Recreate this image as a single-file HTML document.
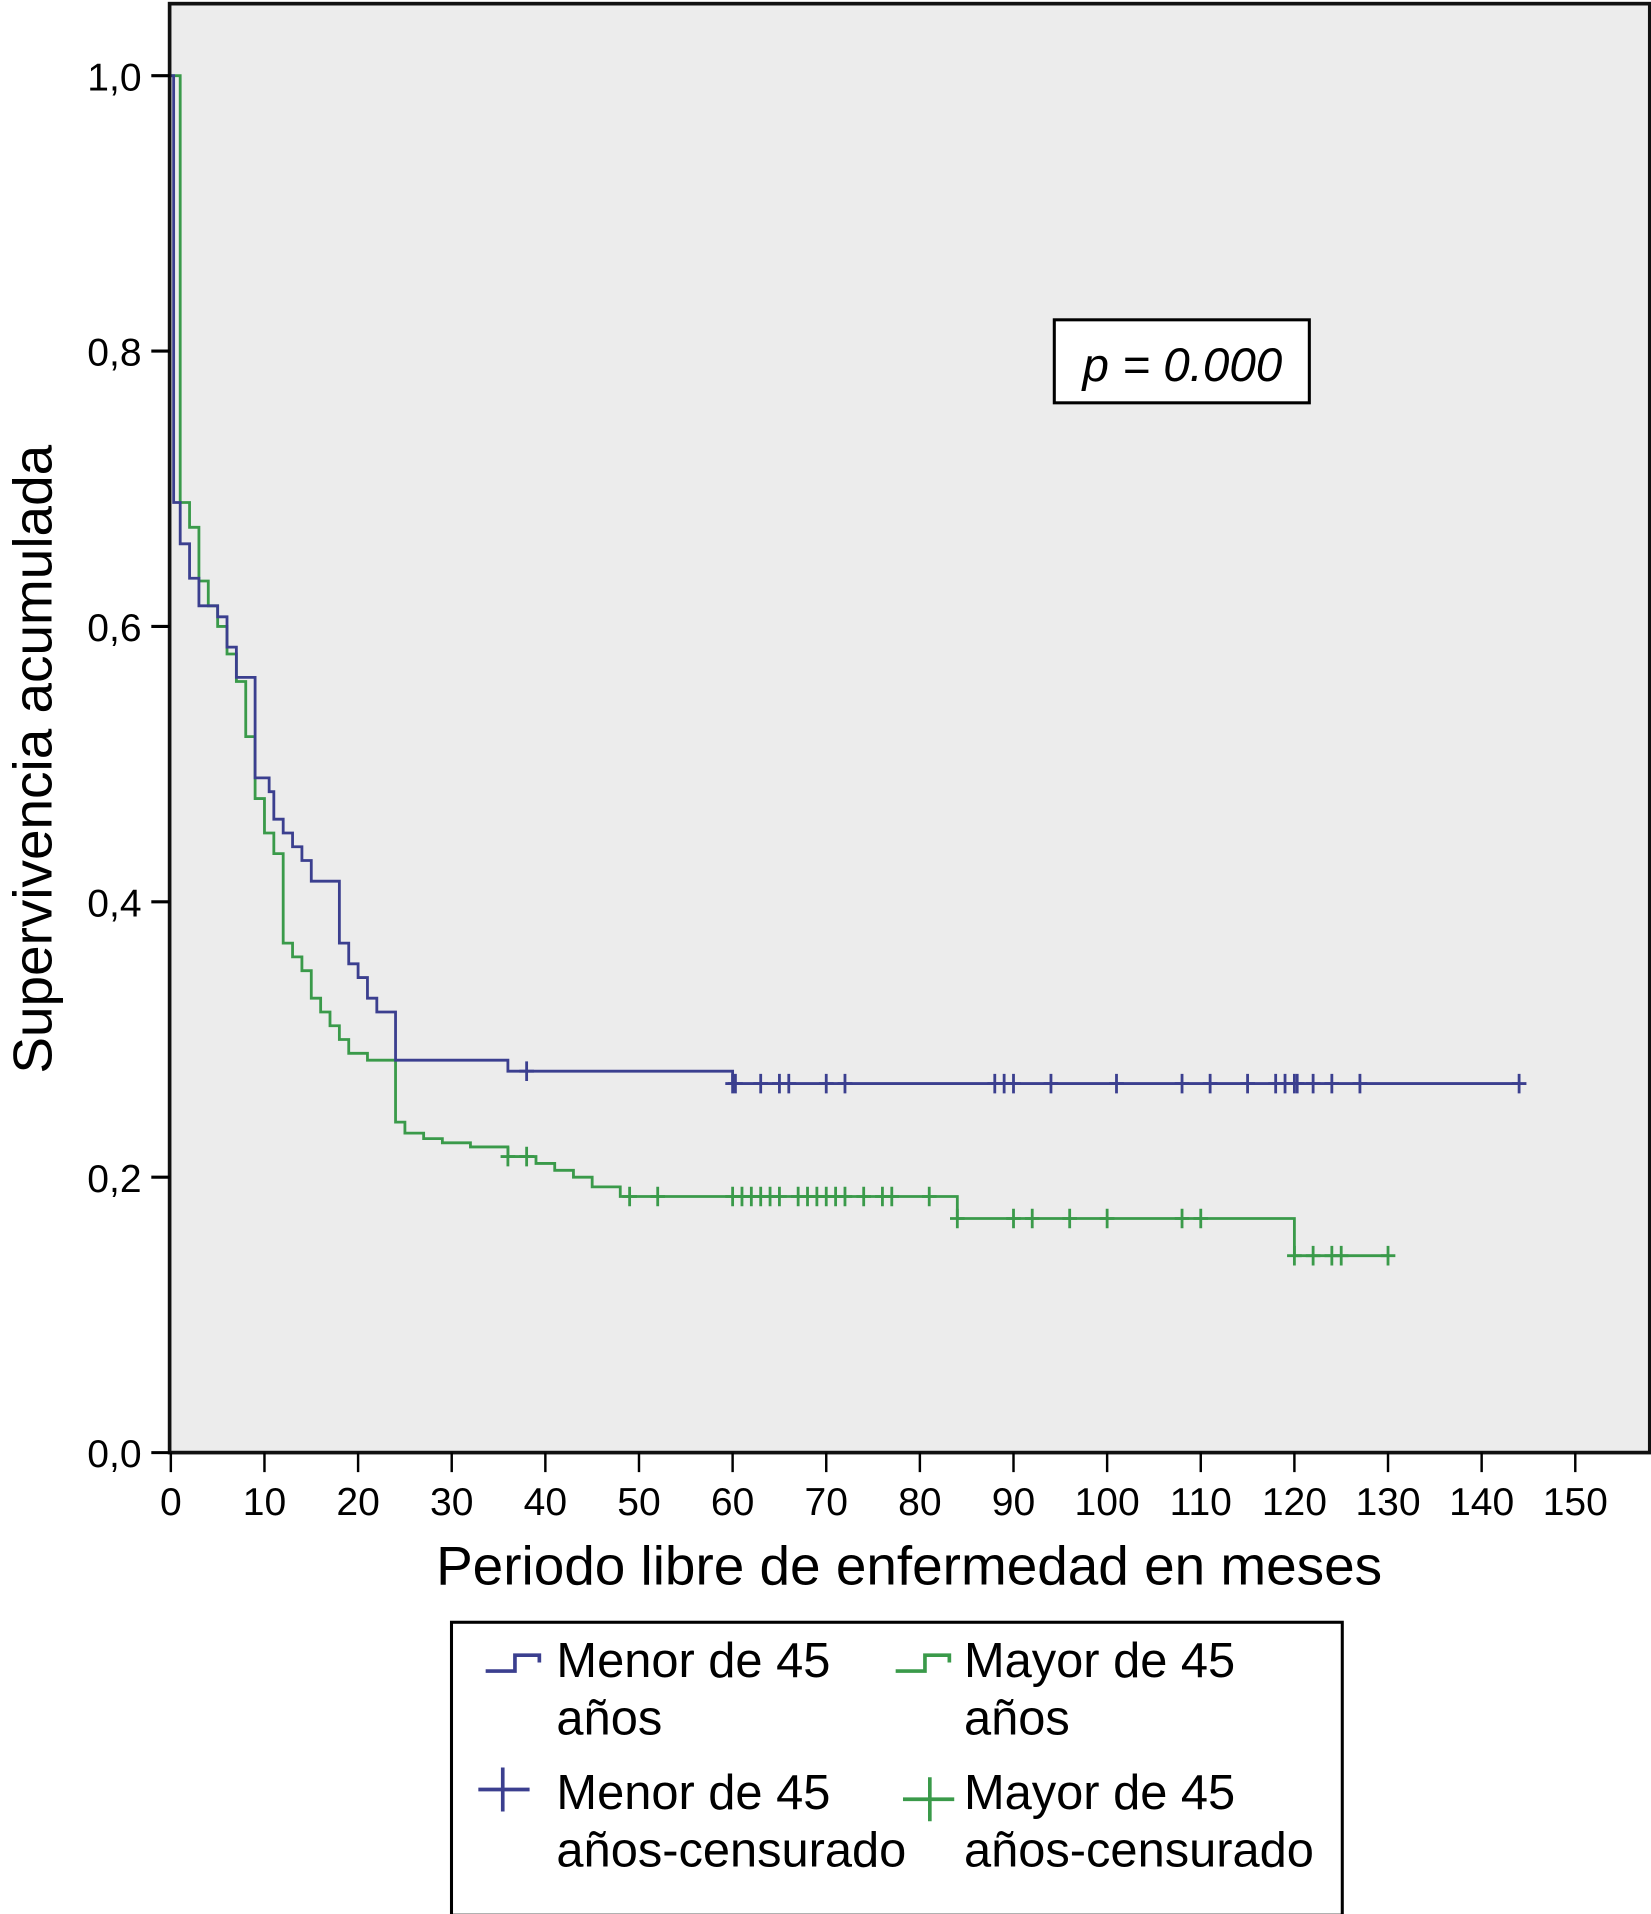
<!DOCTYPE html>
<html><head><meta charset="utf-8"><style>
html,body{margin:0;padding:0;background:#fff;}
svg{display:block;}
text{font-family:"Liberation Sans",sans-serif;fill:#000;}
</style></head><body>
<svg id="chart" width="1651" height="1914" viewBox="0 0 1353 1568" preserveAspectRatio="none" xmlns="http://www.w3.org/2000/svg">
<rect x="139" y="3" width="1213" height="1187" fill="#ececec"/>
<g id="series"></g>
<rect x="139" y="3" width="1213" height="1187" fill="none" stroke="#111" stroke-width="3"/>
<g id="axes"></g>
<g>
<rect x="864" y="262" width="209" height="68" fill="#fff" stroke="#000" stroke-width="2.5"/>
<text x="969" y="312" font-size="39" font-style="italic" text-anchor="middle">p = 0.000</text>
</g>
<text x="745" y="1298" font-size="45" text-anchor="middle">Periodo libre de enfermedad en meses</text>
<text transform="translate(42,622) rotate(-90)" font-size="45" text-anchor="middle">Supervivencia acumulada</text>
<g>
<rect x="370" y="1329" width="730" height="240" fill="#fff" stroke="#000" stroke-width="2.5"/>
<path d="M398 1369 H422 V1356 H442 V1362" fill="none" stroke="#3b3f8f" stroke-width="3"/>
<text x="456" y="1374" font-size="40">Menor de 45</text><text x="456" y="1421" font-size="40">años</text>
<path d="M734 1369 H758 V1356 H778 V1362" fill="none" stroke="#3a9a4a" stroke-width="3"/>
<text x="790" y="1374" font-size="40">Mayor de 45</text><text x="790" y="1421" font-size="40">años</text>
<path d="M392 1466 H434 M412 1448 V1484" stroke="#3b3f8f" stroke-width="3"/>
<text x="456" y="1482" font-size="40">Menor de 45</text><text x="456" y="1529" font-size="40">años-censurado</text>
<path d="M740 1474 H782 M762 1456 V1492" stroke="#3a9a4a" stroke-width="3"/>
<text x="790" y="1482" font-size="40">Mayor de 45</text><text x="790" y="1529" font-size="40">años-censurado</text>
</g>
</svg>
<script>
const xTicks=[0,10,20,30,40,50,60,70,80,90,100,110,120,130,140,150];
const yTicks=[0,0.2,0.4,0.6,0.8,1.0];
const yTickLabels=["0,0","0,2","0,4","0,6","0,8","1,0"];
const menorTimes=[0,0.3,1,2,3,5,6,7,9,10.5,11,12,13,14,15,18,19,20,21,22,24,36,60,144];
const menorSurv=[1.0,0.69,0.66,0.635,0.615,0.607,0.585,0.563,0.49,0.48,0.46,0.45,0.44,0.43,0.415,0.37,0.355,0.345,0.33,0.32,0.285,0.277,0.268,0.268];
const menorCensor=[38,60,60.3,63,65,66,70,72,88,89,90,94,101,108,111,115,118,119,120,120.3,122,124,127,144];
const mayorTimes=[0,1,2,3,4,5,6,7,8,9,10,11,12,13,14,15,16,17,18,19,21,24,25,27,29,32,36,39,41,43,45,48,84,120,130];
const mayorSurv=[1.0,0.69,0.672,0.633,0.615,0.60,0.58,0.56,0.52,0.475,0.45,0.435,0.37,0.36,0.35,0.33,0.32,0.31,0.30,0.29,0.285,0.24,0.232,0.228,0.225,0.222,0.215,0.21,0.205,0.2,0.193,0.186,0.17,0.143,0.143];
const mayorCensor=[36,38,49,52,60,61,62,63,64,65,67,68,69,70,71,72,74,76,77,81,84,90,92,96,100,108,110,120,122,124,125,130];
const X=t=>140+t*7.673, Y=v=>1190-v*1128;
const NS="http://www.w3.org/2000/svg";
function mk(tag,attrs,parent){const e=document.createElementNS(NS,tag);for(const k in attrs)e.setAttribute(k,attrs[k]);parent.appendChild(e);return e;}
function survAt(ts,ss,t){let v=ss[0];for(let i=0;i<ts.length;i++){if(ts[i]<=t)v=ss[i];}return v;}
const series=document.getElementById('series');
function drawSeries(ts,ss,cs,color,name){
  let d="M"+X(ts[0])+" "+Y(ss[0]);
  for(let i=1;i<ts.length;i++){d+=" H"+X(ts[i])+" V"+Y(ss[i]);}
  const p=mk('path',{d:d,fill:'none',stroke:color,'stroke-width':2.3},series);
  
  
  cs.forEach(c=>{const x=X(c),y=Y(survAt(ts,ss,c));
    const m=mk('path',{d:`M${x-6} ${y} H${x+6} M${x} ${y-8} V${y+8}`,stroke:color,'stroke-width':2.3},series);
    
    
  });
}
drawSeries(mayorTimes,mayorSurv,mayorCensor,'#3a9a4a','mayor');
drawSeries(menorTimes,menorSurv,menorCensor,'#3b3f8f','menor');
const axes=document.getElementById('axes');
xTicks.forEach(t=>{
  const l=mk('line',{x1:X(t),x2:X(t),y1:1190,y2:1206,stroke:'#000','stroke-width':2},axes);
  
  
  const tx=mk('text',{x:X(t),y:1241,'font-size':32,'text-anchor':'middle'},axes);
  tx.textContent=t;
  
  
});
yTicks.forEach((v,i)=>{
  const l=mk('line',{x1:124,x2:139,y1:Y(v),y2:Y(v),stroke:'#000','stroke-width':2.5},axes);
  
  
  const tx=mk('text',{x:116,y:Y(v)+12,'font-size':32,'text-anchor':'end'},axes);
  tx.textContent=yTickLabels[i];
  
  
});
</script>
</body></html>
